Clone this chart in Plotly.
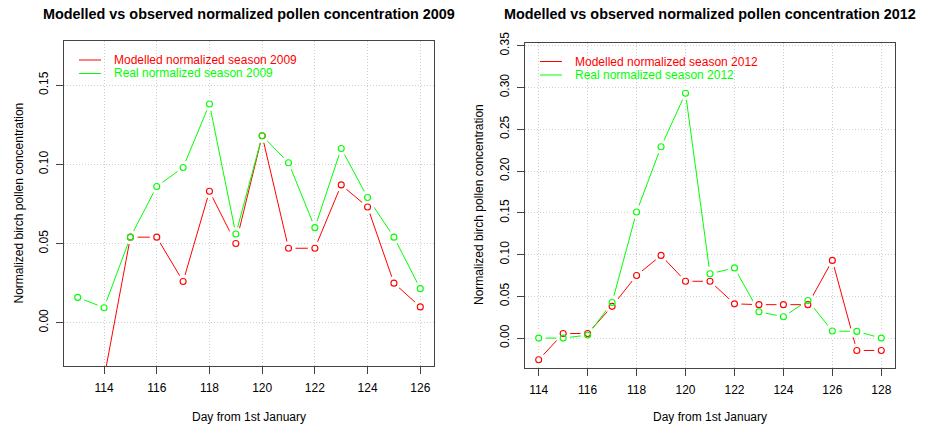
import plotly.graph_objects as go

W, H = 925, 427

# ---- data -------------------------------------------------------------
days_2009 = [113, 114, 115, 116, 117, 118, 119, 120, 121, 122, 123, 124, 125, 126]
modelled_2009 = [None, -0.035, 0.054, 0.054, 0.026, 0.083, 0.050, 0.118, 0.047, 0.047, 0.087, 0.073, 0.025, 0.010]
real_2009 = [0.016, 0.0095, 0.054, 0.086, 0.098, 0.138, 0.056, 0.118, 0.101, 0.060, 0.110, 0.079, 0.054, 0.0215]

days_2012 = [114, 115, 116, 117, 118, 119, 120, 121, 122, 123, 124, 125, 126, 127, 128]
modelled_2012 = [-0.026, 0.0055, 0.0055, 0.038, 0.075, 0.099, 0.068, 0.068, 0.041, 0.040, 0.040, 0.040, 0.093, -0.0148, -0.0148]
real_2012 = [0.0, 0.0, 0.0036, 0.0426, 0.151, 0.229, 0.293, 0.077, 0.084, 0.0315, 0.0255, 0.045, 0.0084, 0.008, 0.0]

xticks_2009 = [114, 116, 118, 120, 122, 124, 126]
yticks_2009 = [0.00, 0.05, 0.10, 0.15]
xticks_2012 = [114, 116, 118, 120, 122, 124, 126, 128]
yticks_2012 = [0.00, 0.05, 0.10, 0.15, 0.20, 0.25, 0.30, 0.35]

RED = "#FF0000"
GREEN = "#00FF00"
FONT = "Liberation Sans, Arial, sans-serif"

fig = go.Figure()


def px_x(p):
    return p / W


def px_y(p):
    return 1 - p / H


def add_panel(n, days, modelled, real, year, xticks, yticks, xrange_, yrange_, box):
    xa = "x" if n == 1 else "x%d" % n
    ya = "y" if n == 1 else "y%d" % n
    series = [(modelled, RED), (real, GREEN)]
    # connecting lines
    for vals, col in series:
        fig.add_trace(go.Scatter(x=days, y=vals, mode="lines", xaxis=xa, yaxis=ya,
                                 line=dict(color=col, width=1), showlegend=False,
                                 connectgaps=False, hoverinfo="skip"))
    # white gaps around points (type "b" look)
    for vals, col in series:
        fig.add_trace(go.Scatter(x=days, y=vals, mode="markers", xaxis=xa, yaxis=ya,
                                 marker=dict(symbol="circle", size=14, color="white",
                                             line=dict(width=0)),
                                 showlegend=False, hoverinfo="skip"))
    # open circles
    for vals, col in series:
        fig.add_trace(go.Scatter(x=days, y=vals, mode="markers", xaxis=xa, yaxis=ya,
                                 marker=dict(symbol="circle-open", size=6, color=col,
                                             line=dict(width=1.1, color=col)),
                                 showlegend=False))

    left, top, right, bottom = box
    axis_common = dict(showline=True, linecolor="#444", linewidth=1, mirror=True,
                       ticks="outside", ticklen=7, tickcolor="#444", tickwidth=1,
                       showgrid=True, gridcolor="#CFCFCF", griddash="1px,2px", gridwidth=1,
                       zeroline=False, tickfont=dict(family=FONT, size=12, color="black"))
    fig.update_layout({
        ("xaxis" if n == 1 else "xaxis%d" % n): dict(
            axis_common, domain=[px_x(left), px_x(right)], range=xrange_,
            tickvals=xticks, anchor=ya, ticklabelstandoff=4),
        ("yaxis" if n == 1 else "yaxis%d" % n): dict(
            axis_common, domain=[px_y(bottom), px_y(top)], range=yrange_,
            tickvals=yticks, tickformat=".2f", tickangle=-90, anchor=xa,
            ticklabelstandoff=3),
    })

    cx = (left + right) / 2
    cy = (top + bottom) / 2
    fig.add_annotation(text="<b>Modelled vs observed normalized pollen concentration %d</b>" % year,
                       xref="paper", yref="paper", x=px_x(cx), y=px_y(14),
                       showarrow=False, xanchor="center", yanchor="middle",
                       font=dict(family=FONT, size=14.4, color="black"))
    fig.add_annotation(text="Day from 1st January", xref="paper", yref="paper",
                       x=px_x(cx), y=px_y(417), showarrow=False,
                       xanchor="center", yanchor="middle",
                       font=dict(family=FONT, size=12, color="black"))
    fig.add_annotation(text="Normalized birch pollen concentration", xref="paper", yref="paper",
                       x=px_x(left - 46), y=px_y(cy), showarrow=False, textangle=-90,
                       xanchor="center", yanchor="middle",
                       font=dict(family=FONT, size=12, color="black"))

    # legend (no box)
    labels = ["Modelled normalized season %d" % year, "Real normalized season %d" % year]
    for i, (lab, col) in enumerate(zip(labels, [RED, GREEN])):
        ly = top + 19 + i * 13.5
        fig.add_shape(type="line", xref="paper", yref="paper", layer="above",
                      x0=px_x(left + 15), x1=px_x(left + 37), y0=px_y(ly), y1=px_y(ly),
                      line=dict(color=col, width=1))
        fig.add_annotation(text=lab, xref="paper", yref="paper", x=px_x(left + 48), y=px_y(ly),
                           showarrow=False, xanchor="left", yanchor="middle",
                           font=dict(family=FONT, size=12, color=col))


add_panel(1, days_2009, modelled_2009, real_2009, 2009, xticks_2009, yticks_2009,
          [112.48, 126.52], [-0.0273, 0.1778], (64, 41, 434, 366))
add_panel(2, days_2012, modelled_2012, real_2012, 2012, xticks_2012, yticks_2012,
          [113.44, 128.56], [-0.0352, 0.3538], (525, 42.5, 895, 367.5))

fig.update_layout(width=W, height=H, autosize=False,
                  margin=dict(l=0, r=0, t=0, b=0, autoexpand=False),
                  plot_bgcolor="white", paper_bgcolor="white", showlegend=False)

fig.write_html("out.html")
